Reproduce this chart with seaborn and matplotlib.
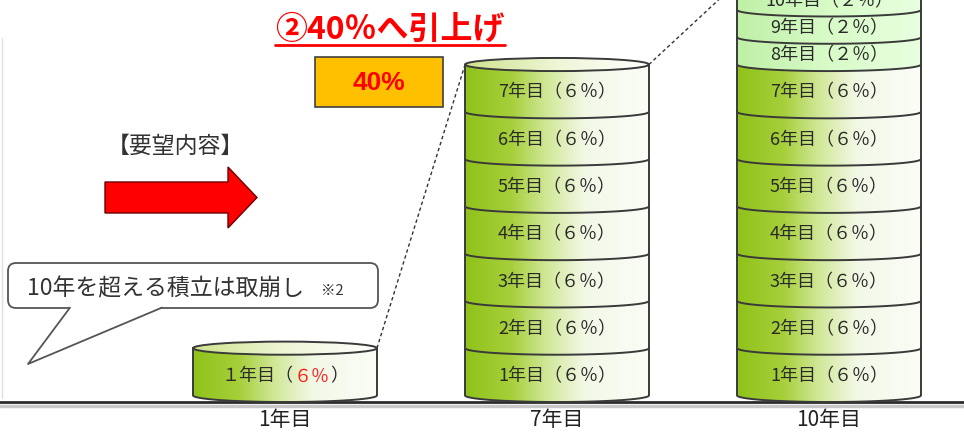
import numpy as np
import pandas as pd
import seaborn as sns
import matplotlib.pyplot as plt
from matplotlib.colors import LinearSegmentedColormap
from matplotlib.patches import Ellipse, PathPatch, Polygon, Rectangle, FancyBboxPatch
from matplotlib.path import Path

sns.set_theme(style="white")
plt.rcParams["font.family"] = ["Noto Sans CJK JP", "DejaVu Sans"]

# --- data -------------------------------------------------------------
columns = ["1年目", "7年目", "10年目"]
years_held = [1, 7, 10]
rates = [6, 6, 6, 6, 6, 6, 6, 2, 2, 2]  # 積立率 for 1年目 .. 10年目
title = "②40％へ引上げ"
box_text = "40%"
request_label = "【要望内容】"
bubble_text = "10年を超える積立は取崩し"
bubble_note = "※2"

zen = str.maketrans("0123456789", "０１２３４５６７８９")

rows = []
for col, n in zip(columns, years_held):
    top = 0.0
    for yr in range(1, n + 1):
        h = np.sqrt(rates[yr - 1])  # the drawing compresses small shares
        rows.append(dict(column=col, year=yr, rate=rates[yr - 1], bottom=top, top=top + h))
        top += h
df = pd.DataFrame(rows)
df["layer"] = df["year"].astype(str)

# --- style ------------------------------------------------------------
BAR_W = 0.676
ELL = 0.34  # half height of the cylinder ellipses, data units
EDGE = "#3a3a3a"
TXT = "#2a2a2a"
LAB_FS = 13
body_cmap = LinearSegmentedColormap.from_list(
    "body", [(0, "#8fc21a"), (0.25, "#a6cf3a"), (0.45, "#d2e89a"), (0.65, "#f2f8e6"), (1, "#fbfdf7")])
light_cmap = LinearSegmentedColormap.from_list("light", ["#bff0a6", "#d8fbc8", "#e8ffe0"])
face_cmap = LinearSegmentedColormap.from_list("face", ["#cfe38c", "#eef6d6", "#ffffff"])

fig = plt.figure(figsize=(9.64, 4.34), dpi=100)
ax = fig.add_axes([0, 32 / 434, 1, 402 / 434])
ax.set_facecolor("none")

layer_order = [str(y) for y in range(10, 0, -1)]
pal = {str(y): ("#c8f5b4" if rates[y - 1] < 6 else "#a9d046") for y in range(1, 11)}
sns.barplot(data=df, x="column", y="top", hue="layer", hue_order=layer_order, order=columns,
            dodge=False, width=BAR_W, palette=pal, saturation=1, errorbar=None,
            legend=False, linewidth=0, ax=ax)


def arc(cx, a, yc, reverse=False, n=80):
    t = np.linspace(np.pi, 2 * np.pi, n)
    pts = np.column_stack([cx + a * np.cos(t), yc + ELL * np.sin(t)])
    return pts[::-1] if reverse else pts


def fill_band(cx, a, yb, yt, cmap, z):
    pts = np.vstack([arc(cx, a, yb), arc(cx, a, yt, reverse=True)])
    patch = PathPatch(Path(np.vstack([pts, pts[:1]]), closed=True),
                      facecolor="none", edgecolor="none", transform=ax.transData)
    ax.add_patch(patch)
    im = ax.imshow(np.linspace(0, 1, 256)[None, :], cmap=cmap, aspect="auto",
                   extent=[cx - a, cx + a, yb - ELL, yt + ELL], zorder=z)
    im.set_clip_path(patch)


tops = []
for i, col in enumerate(columns):
    seg = df[df.column == col]
    a = BAR_W / 2
    cx = i
    main = seg[seg.rate >= 6]
    light = seg[seg.rate < 6]
    y_main = main.top.max()
    top = seg.top.max()
    tops.append(top)
    fill_band(cx, a, 0, y_main, body_cmap, 3)
    if len(light):
        fill_band(cx, a, y_main, top, light_cmap, 3)

    face = Ellipse((cx, top), 2 * a, 2 * ELL, facecolor="none", edgecolor="none")
    ax.add_patch(face)
    im = ax.imshow(np.linspace(0, 1, 256)[None, :], cmap=face_cmap, aspect="auto",
                   extent=[cx - a, cx + a, top - ELL, top + ELL], zorder=3)
    im.set_clip_path(face)

    lw = 1.4
    for xs in (cx - a, cx + a):
        ax.plot([xs, xs], [0, top], color=EDGE, lw=lw, zorder=5, clip_on=False)
    ax.plot(*arc(cx, a, 0).T, color=EDGE, lw=lw, zorder=5, clip_on=False)
    for t in seg.top.iloc[:-1]:
        ax.plot(*arc(cx, a, t).T, color=EDGE, lw=lw, zorder=5)
    ax.add_patch(Ellipse((cx, top), 2 * a, 2 * ELL, facecolor="none", edgecolor=EDGE,
                         lw=lw, zorder=5))

    for _, r in seg.iterrows():
        ymid = (r.bottom + r.top) / 2 - 0.7 * ELL
        if len(seg) == 1:
            ghost = ax.text(cx, ymid, f"{str(r.year).translate(zen)}年目（{str(r.rate).translate(zen)}％）",
                            ha="center", va="center", fontsize=LAB_FS, alpha=0, zorder=6)
            p1 = ax.annotate(f"{str(r.year).translate(zen)}年目（", xy=(0, 0.5), xycoords=ghost,
                             ha="left", va="center", fontsize=LAB_FS, color=TXT, zorder=6)
            p2 = ax.annotate(f"{str(r.rate).translate(zen)}％", xy=(1, 0.5), xycoords=p1,
                             ha="left", va="center", fontsize=LAB_FS, color="#ff2020", zorder=6)
            ax.annotate("）", xy=(1, 0.5), xycoords=p2, ha="left", va="center",
                        fontsize=LAB_FS, color=TXT, zorder=6)
        else:
            ax.text(cx, ymid, f"{r.year}年目（{str(r.rate).translate(zen)}％）",
                    ha="center", va="center", fontsize=LAB_FS, color=TXT, zorder=6)

# dashed connectors between stacks
for i in range(len(columns) - 1):
    ax.plot([i + BAR_W / 2, i + 1 - BAR_W / 2], [tops[i], tops[i + 1]],
            color="#333333", lw=1, dashes=(2.5, 2), zorder=4)

ax.set_xlim(-285 / 272, (964 - 285) / 272)
ax.set_ylim(-ELL, 402 / 19.3 - ELL)
ax.set_xlabel("")
ax.set_ylabel("")
ax.set_yticks([])
ax.tick_params(axis="x", length=0, pad=5, labelsize=15, labelcolor="#222222")
for s in ("top", "left", "right"):
    ax.spines[s].set_visible(False)
ax.spines["bottom"].set_color("#2b2b2b")
ax.spines["bottom"].set_linewidth(2)

# --- annotations in pixel space ----------------------------------------
ov = fig.add_axes([0, 0, 1, 1])
ov.set_xlim(0, 964)
ov.set_ylim(434, 0)
ov.set_axis_off()

ov.plot([0, 964], [405.5, 405.5], color="#c8c8c8", lw=2.5, zorder=0)
ov.plot([1.5, 1.5], [38, 398], color="#e0e0e0", lw=1)

t = ov.text(390, 30, title, ha="center", va="center", fontsize=23, fontweight="bold", color="#ff0000")
ov.add_patch(Rectangle((315, 57), 128, 50, facecolor="#ffc000", edgecolor="#404040", lw=1.2))
ov.text(379, 83, box_text, ha="center", va="center", fontsize=19, fontweight="bold",
        color="#ff0000", family=["Liberation Sans", "DejaVu Sans"])
ov.text(175, 146, request_label, ha="center", va="center", fontsize=16.5, color="#333333")
ov.add_patch(Polygon([(105, 182), (228, 182), (228, 167), (257, 197.5), (228, 228), (228, 213), (105, 213)],
                     closed=True, facecolor="#ff0000", edgecolor="#6a0000", lw=1))

ov.add_patch(FancyBboxPatch((8, 263), 370, 45, boxstyle="round,pad=0,rounding_size=8",
                            facecolor="white", edgecolor="#555555", lw=1.3))
ov.add_patch(Polygon([(70, 307), (28, 364), (162, 307)], closed=True, facecolor="white",
                     edgecolor="none", zorder=3))
ov.plot([70, 28, 162], [307.6, 364, 307.6], color="#555555", lw=1.3, zorder=4)
ov.text(27, 289, bubble_text, ha="left", va="center", fontsize=16.5, color="#333333")
ov.text(321, 291, bubble_note, ha="left", va="center", fontsize=10.5, color="#333333")

fig.canvas.draw()
bb = t.get_window_extent()
inv = ov.transData.inverted()
(x0, _), (x1, _) = inv.transform([(bb.x0, bb.y0), (bb.x1, bb.y1)])
ov.plot([x0, x1], [45, 45], color="#ff0000", lw=2)

fig.savefig("out.png", dpi=100)
